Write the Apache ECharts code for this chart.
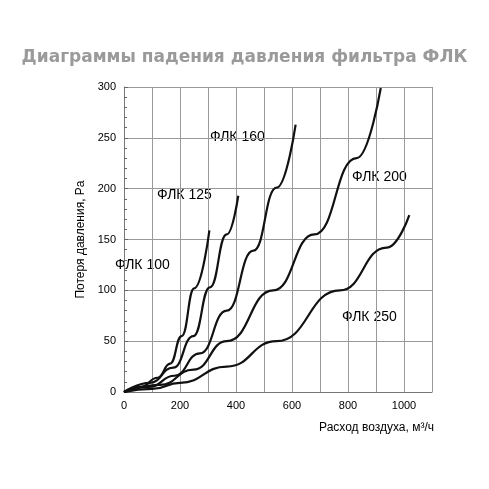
<!DOCTYPE html>
<html><head><meta charset="utf-8">
<script src="https://cdn.jsdelivr.net/npm/echarts@6/dist/echarts.min.js"></script>
<style>html,body{margin:0;background:#fff}#c{width:489px;height:489px}</style>
</head><body><div id="c"></div>
<script>
const names = ['ФЛК 100','ФЛК 125','ФЛК 160','ФЛК 200','ФЛК 250'];
const flk100 = [[0,0],[60,5],[120,14],[165,28],[206,55],[251,102],[305,159]];
const flk125 = [[0,0],[93,9],[176,24],[248,55],[307,103],[367,155],[408,193]];
const flk160 = [[0,0],[90,5],[180,16],[271,38],[367,80],[462,139],[545,201],[613,263]];
const flk200 = [[0,0],[129,7],[248,22],[367,50],[533,100],[680,155],[831,230],[917,299]];
const flk250 = [[0,0],[100,3],[200,9],[367,25],[545,50],[771,100],[938,142],[1019,174]];
const xTicks = [0,200,400,600,800,1000];
const yTicks = [0,50,100,150,200,250,300];
const labelPos = [[115,258],[157,188],[210,130],[352,170],[342,310]];
const all = [flk100,flk125,flk160,flk200,flk250];
const chart = echarts.init(document.getElementById('c'));
chart.setOption({
  animation:false,
  title:{text:'Диаграммы падения давления фильтра ФЛК',left:'center',top:44,
    textStyle:{color:'#9a9a9a',fontSize:17,fontWeight:'bold',fontFamily:'DejaVu Sans'}},
  grid:{left:124,right:57,top:87,bottom:97},
  xAxis:{type:'value',min:0,max:1100,interval:100,
    name:'Расход воздуха, м³/ч',nameLocation:'end',nameGap:0,
    nameTextStyle:{color:'#000',fontSize:12,align:'right',verticalAlign:'top',padding:[30,-2,0,0]},
    axisLine:{lineStyle:{color:'#777'}},axisTick:{show:false},
    axisLabel:{color:'#000',fontSize:11,formatter:v=>xTicks.includes(v)?String(v):''},
    splitLine:{show:true,lineStyle:{color:'#999'}}},
  yAxis:{type:'value',min:0,max:300,interval:50,
    name:'Потеря давления, Pa',nameLocation:'middle',nameGap:28,
    nameTextStyle:{color:'#000',fontSize:12},
    axisLine:{show:true,lineStyle:{color:'#777'}},axisTick:{show:true,length:-4,lineStyle:{color:'#666'}},
    minorTick:{show:true,splitNumber:5,length:-3,lineStyle:{color:'#666'}},
    axisLabel:{color:'#000',fontSize:11,formatter:v=>yTicks.includes(v)?String(v):''},
    splitLine:{lineStyle:{color:'#999'}}},
  series: all.map((d,i)=>({name:names[i],type:'line',data:d,smooth:true,smoothMonotone:'x',symbol:'none',
    lineStyle:{color:'#111',width:2.2}})),
  graphic: labelPos.map((p,i)=>({type:'text',left:p[0],top:p[1],
    style:{text:names[i],fill:'#000',font:'14px Liberation Sans'}}))
});
</script></body></html>
